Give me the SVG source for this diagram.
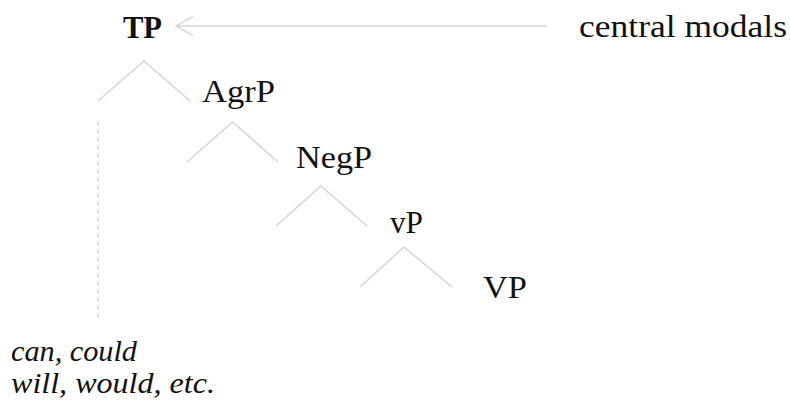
<svg xmlns="http://www.w3.org/2000/svg" width="790" height="416" viewBox="0 0 790 416">
  <defs>
    <marker id="chev" markerUnits="userSpaceOnUse" viewBox="0 0 20 20" refX="17" refY="10" markerWidth="20" markerHeight="20" orient="auto">
      <path d="M0,0.5 L17,10 L0,19.5" fill="none" stroke="#d6d6d6" stroke-width="1.5"/>
    </marker>
  </defs>
  <style>
    .lbl { font-family: "Liberation Serif", "DejaVu Serif", serif; font-size: 32px; fill: #111; }
    .bold { font-weight: bold; }
    .ital { font-family: "Liberation Serif", "DejaVu Serif", serif; font-size: 30px; font-style: italic; fill: #111; }
    .edge { fill: none; stroke: #d6d6d6; stroke-width: 1.6; }
    .dash { fill: none; stroke: #d6d6d6; stroke-width: 1.6; stroke-dasharray: 5 3; }
  </style>
  <rect width="790" height="416" fill="#ffffff"/>

  <g id="connectors">
    <line class="edge" x1="547" y1="26" x2="176" y2="26" marker-end="url(#chev)"/>
    <path class="edge" d="M98,101 L144,61 L190,101"/>
    <path class="edge" d="M187,162 L232.5,122 L278,162"/>
    <path class="edge" d="M276,226 L321,186 L367,226"/>
    <path class="edge" d="M360,287 L404,247 L452,287"/>
    <line class="dash" x1="98" y1="121" x2="98" y2="318"/>
  </g>

  <g id="node-tp"><text class="lbl bold" x="123" y="38" textLength="39" lengthAdjust="spacingAndGlyphs">TP</text></g>
  <g id="node-central-modals"><text class="lbl" x="579" y="37" textLength="208" lengthAdjust="spacingAndGlyphs">central modals</text></g>
  <g id="node-agrp"><text class="lbl" x="202" y="102" textLength="73" lengthAdjust="spacingAndGlyphs">AgrP</text></g>
  <g id="node-negp"><text class="lbl" x="296" y="168" textLength="76" lengthAdjust="spacingAndGlyphs">NegP</text></g>
  <g id="node-vp-small"><text class="lbl" x="390" y="233" textLength="33" lengthAdjust="spacingAndGlyphs">vP</text></g>
  <g id="node-vp"><text class="lbl" x="483" y="298" textLength="44" lengthAdjust="spacingAndGlyphs">VP</text></g>
  <g id="node-modals">
    <text class="ital" x="11" y="361" textLength="126" lengthAdjust="spacingAndGlyphs">can, could</text>
    <text class="ital" x="11" y="393" textLength="204" lengthAdjust="spacingAndGlyphs">will, would, etc.</text>
  </g>
</svg>
